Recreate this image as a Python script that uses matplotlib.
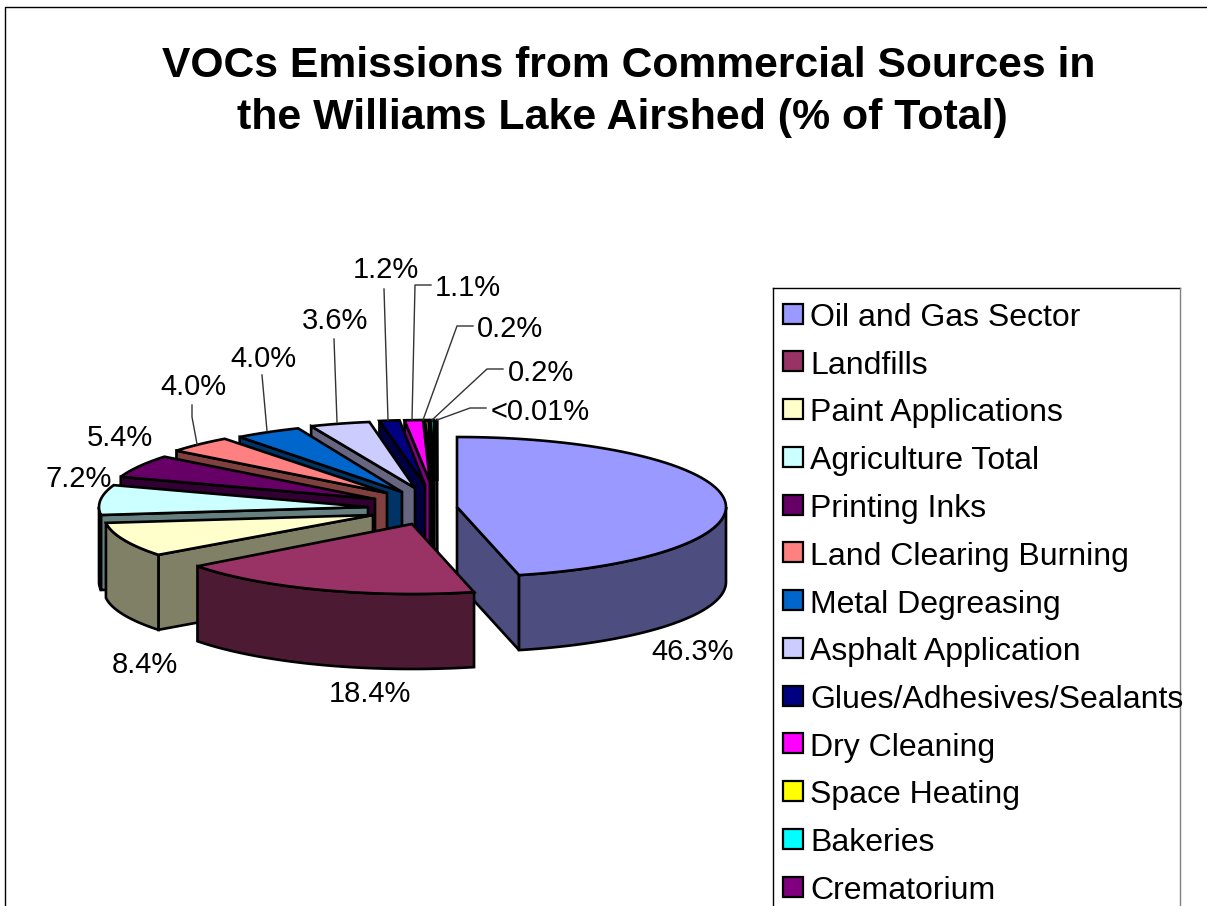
import numpy as np
import matplotlib
matplotlib.use('Agg')
import matplotlib.pyplot as plt
from matplotlib.patches import Polygon, Rectangle

plt.rcParams['font.family'] = ['Liberation Sans', 'DejaVu Sans']

#### DATA ####
sources = ['Oil and Gas Sector', 'Landfills', 'Paint Applications', 'Agriculture Total',
           'Printing Inks', 'Land Clearing Burning', 'Metal Degreasing', 'Asphalt Application',
           'Glues/Adhesives/Sealants', 'Dry Cleaning', 'Space Heating', 'Bakeries', 'Crematorium']
percent = [46.3, 18.4, 8.4, 7.2, 5.4, 4.0, 4.0, 3.6, 1.2, 1.1, 0.2, 0.2, 0.01]
percent_labels = ['46.3%', '18.4%', '8.4%', '7.2%', '5.4%', '4.0%', '4.0%', '3.6%',
                  '1.2%', '1.1%', '0.2%', '0.2%', '<0.01%']
colors = ['#9999FF', '#993366', '#FFFFCC', '#CCFFFF', '#660066', '#FF8080', '#0066CC',
          '#CCCCFF', '#000080', '#FF00FF', '#FFFF00', '#00FFFF', '#800080']
title_lines = ['VOCs Emissions from Commercial Sources in', 'the Williams Lake Airshed (% of Total)']

#### PIE STYLE (pixels) ####
center = (430, 505)
depth = 75
radius_x = 269
# per slice explosion and tilt
explode_x = [27, -18, -57, -62, -55, -43, -28, -15, -5, 0, 2, 4, 7]
explode_y = [2, 19, 10, 2, -6, -12, -13, -17, -20, -23, -24, -24, -24]
radius_y = [70, 70, 66, 67, 68, 68, 69, 67, 65, 62, 61, 61, 61]
lw = 1.9

# label centres
label_x = [693, 370, 145, 79, 120, 193, 263, 335, 386, 468, 510, 541, 540]
label_y = [652, 694, 665, 479, 438, 387, 359, 321, 270, 288, 329, 373, 412]
leaders = {5: [(192, 405), (192, 417), (197, 444)],
           6: [(262, 375), (267, 431)],
           7: [(334, 339), (337, 422)],
           8: [(384, 289), (388, 420)],
           9: [(431, 285), (415, 285), (412, 420)],
           10: [(473, 326), (457, 326), (423, 420)],
           11: [(503, 369), (487, 369), (432, 420)],
           12: [(486, 408), (470, 408), (437, 420)]}


def darken(c):
    rgb = np.array(matplotlib.colors.to_rgb(c))
    return tuple(rgb * 0.5)


def rim(i, ang):
    # clockwise from 12 o'clock, y axis is inverted
    t = np.radians(ang)
    return (center[0] + explode_x[i] + radius_x * np.sin(t),
            center[1] + explode_y[i] - radius_y[i] * np.cos(t))


def add_poly(ax, xs, ys, fc):
    ax.add_patch(Polygon(np.column_stack([xs, ys]), closed=True, facecolor=fc, edgecolor='black',
                         linewidth=lw, joinstyle='miter'))


def draw_slice(ax, i, start, end):
    ax_x = center[0] + explode_x[i]
    ax_y = center[1] + explode_y[i]
    wall = darken(colors[i])
    # radial walls facing the viewer
    if 180 <= start < 360:
        x, y = rim(i, start)
        add_poly(ax, [ax_x, x, x, ax_x], [ax_y, y, y + depth, ax_y + depth], wall)
    if 0 < end <= 180:
        x, y = rim(i, end)
        add_poly(ax, [ax_x, x, x, ax_x], [ax_y, y, y + depth, ax_y + depth], wall)
    # outer wall, only the front half of the pie
    a0, a1 = max(start, 90), min(end, 270)
    if a1 > a0:
        x, y = rim(i, np.linspace(a0, a1, 80))
        add_poly(ax, np.r_[x, x[::-1]], np.r_[y, y[::-1] + depth], wall)
    # top
    x, y = rim(i, np.linspace(start, end, 80))
    add_poly(ax, np.r_[ax_x, x], np.r_[ax_y, y], colors[i])


fig = plt.figure(figsize=(12.07, 9.06), dpi=100)
ax = fig.add_axes([0, 0, 1, 1])
ax.set_xlim(0, 1207)
ax.set_ylim(906, 0)
ax.axis('off')

# chart frame
ax.plot([5, 5, 1207], [906, 7, 7], color='black', lw=1.0)

ax.text(629, 66, title_lines[0], ha='center', va='center', fontsize=30.7, fontweight='bold')
ax.text(622, 118, title_lines[1], ha='center', va='center', fontsize=30.9, fontweight='bold')

edges = np.r_[0, np.cumsum(percent)] / np.sum(percent) * 360
# back to front, walls of the front slices have to cover the back ones
order = [0, 12, 11, 10, 9, 8, 7, 6, 5, 4, 3, 2, 1]
for i in order:
    draw_slice(ax, i, edges[i], edges[i + 1])

for i, pts in leaders.items():
    px, py = zip(*pts)
    ax.plot(px, py, color='#333333', lw=1.0)
for i, lab in enumerate(percent_labels):
    ax.text(label_x[i], label_y[i], lab, ha='center', va='center', fontsize=21)

# legend, runs off the bottom in the original
ax.plot([773, 773], [906, 288], color='black', lw=1.0)
ax.plot([773, 1180], [288, 288], color='black', lw=1.0)
ax.plot([1180, 1180], [288, 906], color='#808080', lw=1.0)
for i, name in enumerate(sources):
    yc = 316 + i * 47.75
    ax.add_patch(Rectangle((783, yc - 12.5), 20, 20, facecolor=colors[i], edgecolor='black', linewidth=1.6))
    ax.text(810, yc + 2, name, ha='left', va='center', fontsize=23)

fig.savefig('out.png', dpi=100)
